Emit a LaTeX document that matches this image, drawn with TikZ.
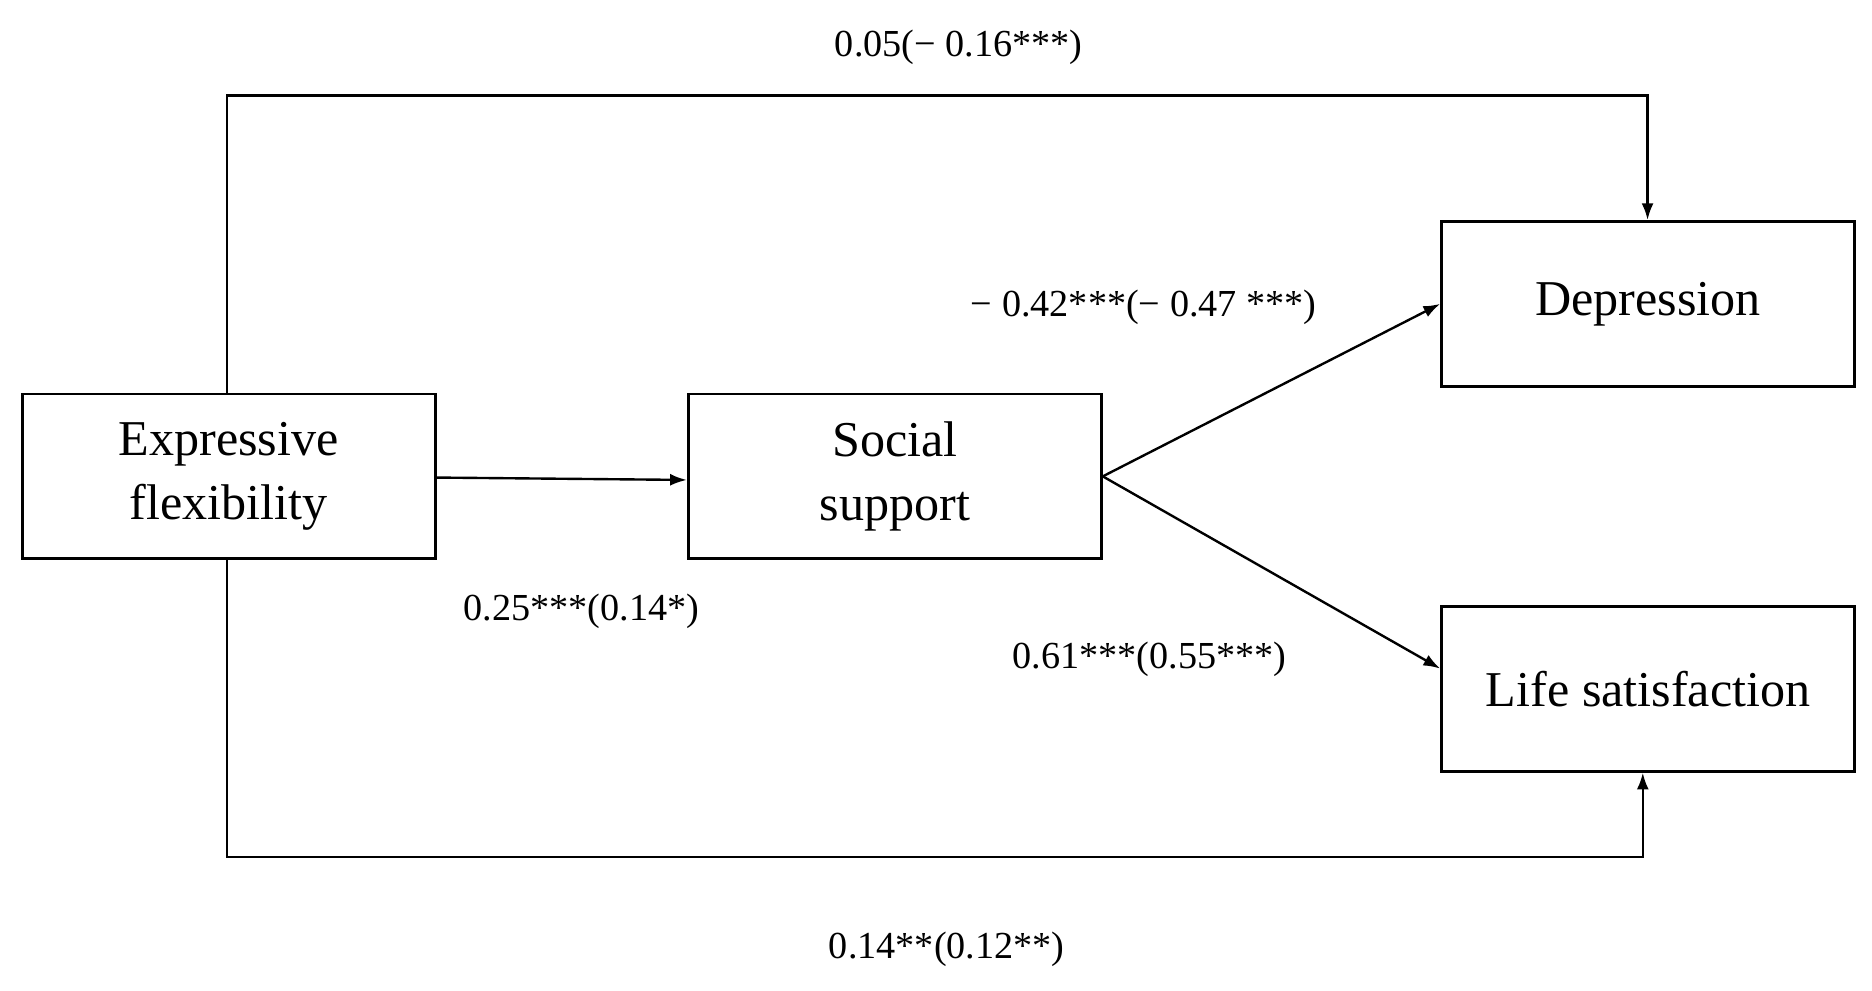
\documentclass[tikz,border=0pt]{standalone}
\usepackage{fontspec}
\setmainfont{Liberation Serif}
\usetikzlibrary{arrows.meta}
\begin{document}
\begin{tikzpicture}[x=0.5pt,y=-0.5pt,
  box/.style={draw,line width=1.2pt,minimum width=173pt,minimum height=69pt,align=center,font=\fontsize{21}{27}\selectfont,inner sep=0pt},
  lab/.style={font=\fontsize{16}{20}\selectfont},
  arr/.style={line width=1pt,-{Latex[length=7pt,width=5pt]}}]
\useasboundingbox (0,0) rectangle (1568,830);
\node[box] (ef) at (191.5,399) {Expressive\\flexibility};
\node[box] (ss) at (749.5,399) {Social\\support};
\node[box] (dep) at (1380.5,254.5) {Depression};
\node[box] (ls) at (1380.5,577) {Life satisfaction};
\coordinate (t1) at (190,80); \coordinate (t2) at (1380,80);
\coordinate (b1) at (190,718); \coordinate (b2) at (1376,718);
\draw[arr] (ef.north -| t1) -- (t1) -- (t2) -- (dep.north -| t2);
\draw[arr] (ef.south -| b1) -- (b1) -- (b2) -- (ls.south -| b2);
\draw[arr] (ef.east |- 0,400) -- (ss.west |- 0,402);
\draw[arr] (ss.east) -- (dep.west);
\draw[arr] (ss.east) -- (ls.west |- 0,560);
\node[lab] (l1) at (803,40) {0.05(− 0.16***)};
\node[lab] (l2) at (958,257) {− 0.42***(− 0.47 ***)};
\node[lab] (l3) at (487,512) {0.25***(0.14*)};
\node[lab] (l4) at (963,552) {0.61***(0.55***)};
\node[lab] (l5) at (793,795) {0.14**(0.12**)};
\end{tikzpicture}
\end{document}
